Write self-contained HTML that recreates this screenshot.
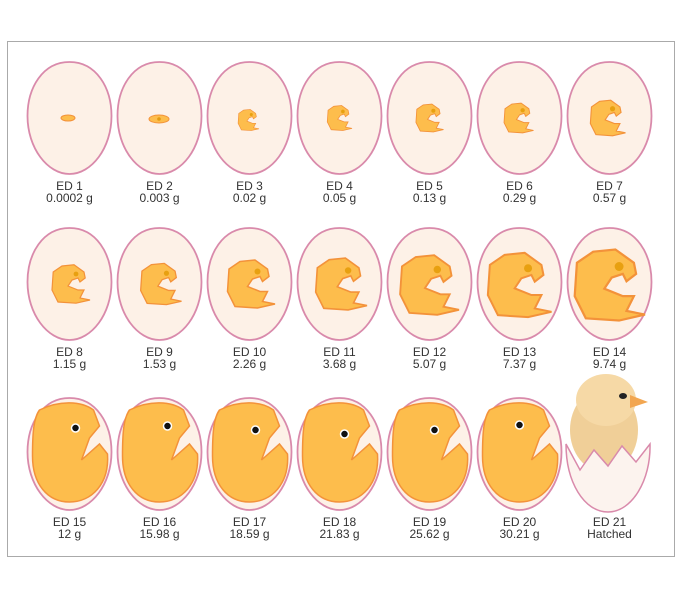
<!DOCTYPE html>
<html><head><meta charset="utf-8"><style>
html,body{margin:0;padding:0;background:#fff;}
svg{display:block;}
text{font-family:"Liberation Sans",sans-serif;font-size:12px;fill:#333;text-anchor:middle;}
</style></head><body>
<svg width="683" height="600" viewBox="0 0 683 600" xmlns="http://www.w3.org/2000/svg">
<defs>
<path id="egg" d="M0,0 C27,0 42,26 42,54 C42,86 22,112 0,112 C-22,112 -42,86 -42,54 C-42,26 -27,0 0,0 Z" fill="#fdf1e7" stroke="#d98aab" stroke-width="1.8"/>
<path id="emb" d="M-20,-45 L10,-48 L35,-30 L38,-15 L25,-5 L20,-15 L5,-10 L-5,5 L20,15 L35,15 L25,35 L50,40 L15,48 L-30,45 L-45,15 L-42,-30 Z" fill="#fdbd4c" stroke="#f3923a" stroke-width="3"/>
<path id="big" d="M-30,12 C-10,2 12,3 24,12 L30,28 L20,40 L12,62 L30,46 L38,56 C40,86 22,104 0,104 C-22,104 -37,86 -37,58 C-37,36 -36,20 -30,12 Z" fill="#fdbd4c" stroke="#f3923a" stroke-width="1.5"/>
</defs>
<rect x="7.5" y="41.5" width="667" height="515" fill="#fff" stroke="#aaa" stroke-width="1"/>

<!-- row 1 -->
<g transform="translate(69.5,62)"><use href="#egg"/></g>
<g transform="translate(159.5,62)"><use href="#egg"/></g>
<g transform="translate(249.5,62)"><use href="#egg"/></g>
<g transform="translate(339.5,62)"><use href="#egg"/></g>
<g transform="translate(429.5,62)"><use href="#egg"/></g>
<g transform="translate(519.5,62)"><use href="#egg"/></g>
<g transform="translate(609.5,62)"><use href="#egg"/></g>
<ellipse cx="68" cy="118" rx="7" ry="3" fill="#fdbd4c" stroke="#f3923a"/>
<ellipse cx="159" cy="119" rx="10" ry="4" fill="#fdbd4c" stroke="#f3923a"/>
<circle cx="159" cy="119" r="1.8" fill="#e39a10"/>
<g transform="translate(248,120) scale(0.22)"><use href="#emb"/><circle cx="15" cy="-25" r="7" fill="#e8a010"/></g>
<g transform="translate(339,118) scale(0.26)"><use href="#emb"/><circle cx="15" cy="-25" r="7" fill="#e8a010"/></g>
<g transform="translate(429,118) scale(0.29)"><use href="#emb"/><circle cx="15" cy="-25" r="7" fill="#e8a010"/></g>
<g transform="translate(518,118) scale(0.31)"><use href="#emb"/><circle cx="15" cy="-25" r="7" fill="#e8a010"/></g>
<g transform="translate(607,118) scale(0.37)"><use href="#emb"/><circle cx="15" cy="-25" r="7" fill="#e8a010"/></g>
<text x="69.5" y="190">ED 1</text><text x="69.5" y="202">0.0002 g</text>
<text x="159.5" y="190">ED 2</text><text x="159.5" y="202">0.003 g</text>
<text x="249.5" y="190">ED 3</text><text x="249.5" y="202">0.02 g</text>
<text x="339.5" y="190">ED 4</text><text x="339.5" y="202">0.05 g</text>
<text x="429.5" y="190">ED 5</text><text x="429.5" y="202">0.13 g</text>
<text x="519.5" y="190">ED 6</text><text x="519.5" y="202">0.29 g</text>
<text x="609.5" y="190">ED 7</text><text x="609.5" y="202">0.57 g</text>

<!-- row 2 -->
<g transform="translate(69.5,228)"><use href="#egg"/></g>
<g transform="translate(159.5,228)"><use href="#egg"/></g>
<g transform="translate(249.5,228)"><use href="#egg"/></g>
<g transform="translate(339.5,228)"><use href="#egg"/></g>
<g transform="translate(429.5,228)"><use href="#egg"/></g>
<g transform="translate(519.5,228)"><use href="#egg"/></g>
<g transform="translate(609.5,228)"><use href="#egg"/></g>
<g transform="translate(70,284) scale(0.4)"><use href="#emb"/><circle cx="15" cy="-25" r="6" fill="#e8a010"/></g>
<g transform="translate(160,284) scale(0.43)"><use href="#emb"/><circle cx="15" cy="-25" r="6" fill="#e8a010"/></g>
<g transform="translate(250,284) scale(0.5)"><use href="#emb"/><circle cx="15" cy="-25" r="6" fill="#e8a010"/></g>
<g transform="translate(340,284) scale(0.54)"><use href="#emb"/><circle cx="15" cy="-25" r="6" fill="#e8a010"/></g>
<g transform="translate(428,285) scale(0.62)"><use href="#emb"/><circle cx="15" cy="-25" r="6" fill="#e8a010"/></g>
<g transform="translate(518,285) scale(0.67)"><use href="#emb"/><circle cx="15" cy="-25" r="6" fill="#e8a010"/></g>
<g transform="translate(608,285) scale(0.74)"><use href="#emb"/><circle cx="15" cy="-25" r="6" fill="#e8a010"/></g>
<text x="69.5" y="356">ED 8</text><text x="69.5" y="368">1.15 g</text>
<text x="159.5" y="356">ED 9</text><text x="159.5" y="368">1.53 g</text>
<text x="249.5" y="356">ED 10</text><text x="249.5" y="368">2.26 g</text>
<text x="339.5" y="356">ED 11</text><text x="339.5" y="368">3.68 g</text>
<text x="429.5" y="356">ED 12</text><text x="429.5" y="368">5.07 g</text>
<text x="519.5" y="356">ED 13</text><text x="519.5" y="368">7.37 g</text>
<text x="609.5" y="356">ED 14</text><text x="609.5" y="368">9.74 g</text>

<!-- row 3 -->
<g transform="translate(69.5,398)"><use href="#egg"/><use href="#big"/><circle cx="6" cy="30" r="4" fill="#111" stroke="#fff" stroke-width="1.5"/></g>
<g transform="translate(159.5,398)"><use href="#egg"/><use href="#big"/><circle cx="8" cy="28" r="4" fill="#111" stroke="#fff" stroke-width="1.5"/></g>
<g transform="translate(249.5,398)"><use href="#egg"/><use href="#big"/><circle cx="6" cy="32" r="4" fill="#111" stroke="#fff" stroke-width="1.5"/></g>
<g transform="translate(339.5,398)"><use href="#egg"/><use href="#big"/><circle cx="5" cy="36" r="4" fill="#111" stroke="#fff" stroke-width="1.5"/></g>
<g transform="translate(429.5,398)"><use href="#egg"/><use href="#big"/><circle cx="5" cy="32" r="4" fill="#111" stroke="#fff" stroke-width="1.5"/></g>
<g transform="translate(519.5,398)"><use href="#egg"/><use href="#big"/><circle cx="0" cy="27" r="4" fill="#111" stroke="#fff" stroke-width="1.5"/></g>
<!-- ED 21 chick -->
<ellipse cx="604" cy="430" rx="34" ry="42" fill="#f0cf98"/>
<ellipse cx="606" cy="400" rx="30" ry="26" fill="#f6d9a6"/>
<ellipse cx="623" cy="396" rx="4" ry="3" fill="#222"/>
<path d="M630,395 L648,402 L630,408 Z" fill="#f2a650"/>
<path d="M566,444 L580,470 L594,450 L608,466 L622,446 L636,462 L650,444 C651,480 632,512 608,512 C584,512 566,482 566,444 Z" fill="#fcf3ee" stroke="#d98aab" stroke-width="1.5"/>
<text x="69.5" y="526">ED 15</text><text x="69.5" y="538">12 g</text>
<text x="159.5" y="526">ED 16</text><text x="159.5" y="538">15.98 g</text>
<text x="249.5" y="526">ED 17</text><text x="249.5" y="538">18.59 g</text>
<text x="339.5" y="526">ED 18</text><text x="339.5" y="538">21.83 g</text>
<text x="429.5" y="526">ED 19</text><text x="429.5" y="538">25.62 g</text>
<text x="519.5" y="526">ED 20</text><text x="519.5" y="538">30.21 g</text>
<text x="609.5" y="526">ED 21</text><text x="609.5" y="538">Hatched</text>
</svg>
</body></html>
